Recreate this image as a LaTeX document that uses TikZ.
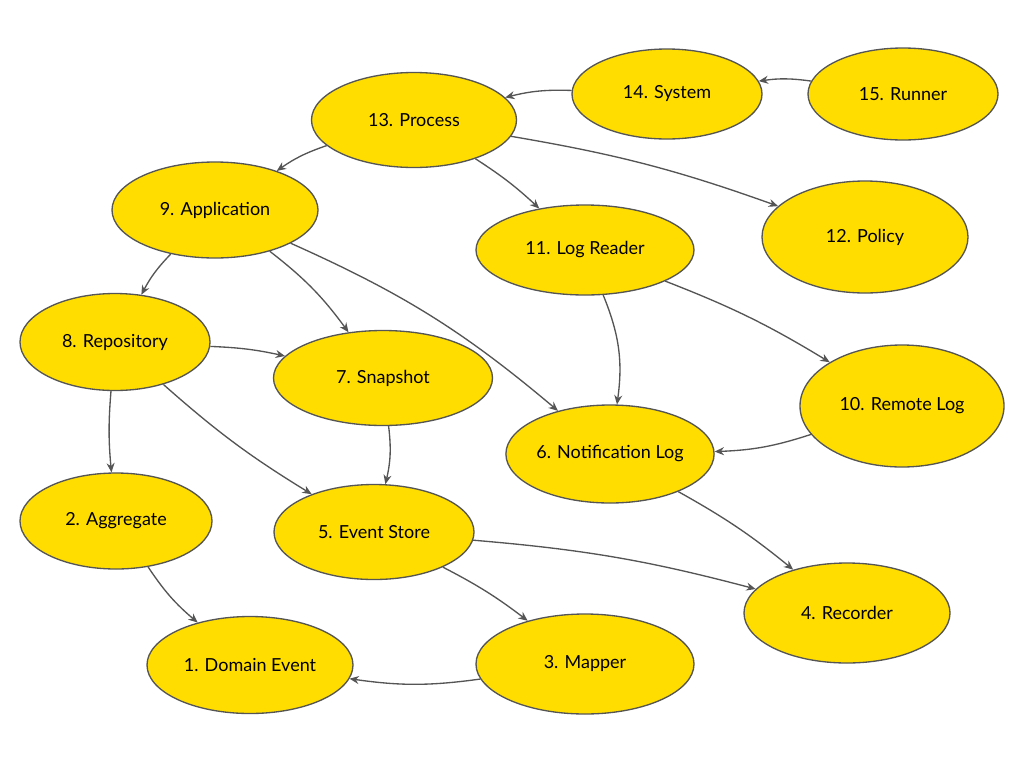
\documentclass[tikz,border=0pt]{standalone}
\usepackage{fontspec}
\setmainfont{Lato}
\usetikzlibrary{shapes.geometric,arrows.meta}
\definecolor{nodefill}{HTML}{FFDD00}
\definecolor{edgegray}{HTML}{555555}
\begin{document}
\begin{tikzpicture}[x=0.75pt,y=-0.75pt,
  el/.style={ellipse,draw=edgegray,line width=1pt,fill=nodefill,inner sep=0pt,font=\fontsize{13.5}{16}\selectfont},
  con/.style={draw=edgegray,line width=1pt,-{Stealth[length=7pt,width=6pt]}}]
\useasboundingbox (0,0) rectangle (1024,768);
\def\E#1#2#3#4#5#6{\node[el,minimum width=#4*0.75pt,minimum height=#5*0.75pt] (#1) at (#2,#3) {#6};}
\E{n14}{667}{94}{190}{90}{14. System}
\E{n15}{903}{94}{190}{92}{15. Runner}
\E{n13}{414}{120}{205}{95}{13. Process}
\E{n9}{215}{210}{206}{96}{9. Application}
\E{n11}{585}{250}{218}{90}{11. Log Reader}
\E{n12}{865}{237}{206}{112}{12. Policy}
\E{n8}{115}{342}{190}{97}{8. Repository}
\E{n7}{383}{378}{219}{95}{7. Snapshot}
\E{n10}{902}{406}{204}{122}{10. Remote Log}
\E{n6}{610}{454}{208}{98}{6. Notification Log}
\E{n2}{116}{521}{192}{96}{2. Aggregate}
\E{n5}{374}{532}{200}{95}{5. Event Store}
\E{n4}{847}{613}{206}{100}{4. Recorder}
\E{n1}{250}{665}{206}{97}{1. Domain Event}
\E{n3}{585}{664}{218}{100}{3. Mapper}
\draw[con] (n15) to[bend right=8] (n14);
\draw[con] (n14) to[bend right=8] (n13);
\draw[con] (n13) to[bend right=8] (n9);
\draw[con] (n13) to[bend left=5] (n11);
\draw[con] (n13) to[bend left=5] (n12);
\draw[con] (n9) to[bend right=8] (n8);
\draw[con] (n9) to[bend left=8] (n7);
\draw[con] (n9) to[bend left=8] (n6);
\draw[con] (n11) to[bend left=15] (n6);
\draw[con] (n11) to[bend left=5] (n10);
\draw[con] (n8) to[bend left=5] (n7);
\draw[con] (n8) to[bend right=5] (n2);
\draw[con] (n8) to[bend right=5] (n5);
\draw[con] (n7) to[bend left=10] (n5);
\draw[con] (n10) to[bend left=8] (n6);
\draw[con] (n6) to[bend left=5] (n4);
\draw[con] (n2) to[bend right=8] (n1);
\draw[con] (n5) to[bend left=5] (n3);
\draw[con] (n5) to[bend left=5] (n4);
\draw[con] (n3) to[bend left=8] (n1);
\end{tikzpicture}
\end{document}
